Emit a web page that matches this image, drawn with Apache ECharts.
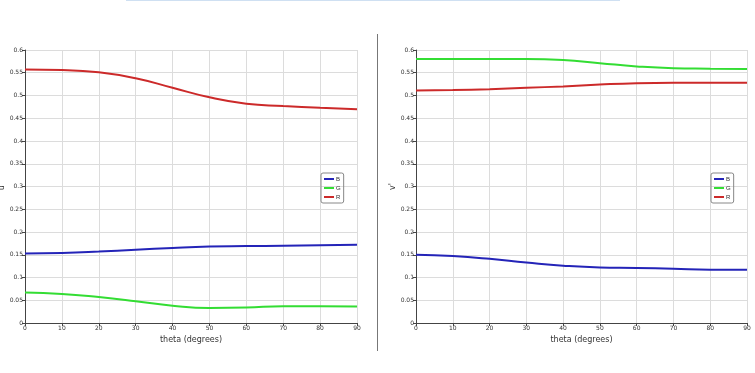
<!DOCTYPE html>
<html><head><meta charset="utf-8">
<script src="https://cdn.jsdelivr.net/npm/echarts@6/dist/echarts.min.js"></script>
<style>html,body{margin:0;padding:0;background:#fff}#c{width:755px;height:373px}</style>
</head><body><div id="c"></div>
<script>
const theta = [0,10,20,30,40,50,60,70,80,90];
const uR = [0.557,0.556,0.551,0.538,0.517,0.496,0.482,0.477,0.473,0.470];
const uG = [0.067,0.064,0.057,0.048,0.038,0.033,0.034,0.037,0.037,0.036];
const uB = [0.153,0.154,0.157,0.161,0.165,0.168,0.169,0.170,0.171,0.172];
const vG = [0.580,0.580,0.580,0.580,0.578,0.571,0.564,0.560,0.559,0.558];
const vR = [0.511,0.512,0.514,0.517,0.520,0.524,0.527,0.528,0.528,0.528];
const vB = [0.150,0.147,0.141,0.133,0.126,0.122,0.121,0.119,0.117,0.117];
const yTicks = ['0','0.05','0.1','0.15','0.2','0.25','0.3','0.35','0.4','0.45','0.5','0.55','0.6'];
const colors = {B:'#2424b8', G:'#33dd33', R:'#cc2a2a'};

const chart = echarts.init(document.getElementById('c'));
function xa(i){return {gridIndex:i,type:'value',min:0,max:90,interval:10,
  name:'theta (degrees)',nameLocation:'middle',nameGap:9,
  nameTextStyle:{fontSize:8,color:'#333',fontFamily:'DejaVu Sans'},
  axisLine:{lineStyle:{color:'#444'}},axisTick:{length:3,lineStyle:{color:'#444'}},
  axisLabel:{fontSize:6,color:'#333',margin:2,fontFamily:'DejaVu Sans'},
  splitLine:{lineStyle:{color:'#dcdcdc'}}};}
function ya(i,nm){return {gridIndex:i,type:'value',min:0,max:0.6,interval:0.05,
  name:nm,nameLocation:'middle',nameGap:16,nameRotate:90,
  nameTextStyle:{fontSize:8,color:'#333',fontFamily:'DejaVu Sans'},
  axisLine:{show:true,lineStyle:{color:'#444'}},axisTick:{show:true,length:3,lineStyle:{color:'#444'}},
  axisLabel:{fontSize:6,color:'#333',margin:2,fontFamily:'DejaVu Sans',
    formatter:v=>yTicks[Math.round(v/0.05)]},
  splitLine:{lineStyle:{color:'#dcdcdc'}}};}
function s(name,data,i){return {name,type:'line',xAxisIndex:i,yAxisIndex:i,smooth:true,symbol:'none',
  data:theta.map((t,k)=>[t,data[k]]),lineStyle:{width:2,color:colors[name]},itemStyle:{color:colors[name]}};}
function lg(left){return {orient:'vertical',left,top:173,data:['B','G','R'],itemWidth:10,itemHeight:2,itemGap:3,
  icon:'rect',padding:[3,3,3,3],borderColor:'#888',borderWidth:1,borderRadius:2,
  textStyle:{fontSize:6,color:'#333',padding:[0,0,0,-3]},selectedMode:false};}
chart.setOption({
  animation:false,
  grid:[{left:25,right:398,top:50,bottom:50,containLabel:false,outerBoundsMode:'none'},
        {left:416,right:8,top:50,bottom:50,containLabel:false,outerBoundsMode:'none'}],
  xAxis:[xa(0),xa(1)],
  yAxis:[ya(0,"u'"),ya(1,"v'")],
  legend:[lg(321),lg(711)],
  series:[s('B',uB,0),s('G',uG,0),s('R',uR,0),s('B',vB,1),s('G',vG,1),s('R',vR,1)],
  graphic:[
    {type:'rect',shape:{x:377,y:34,width:1,height:317},style:{fill:'#777'}},
    {type:'rect',shape:{x:126,y:0,width:494,height:1},style:{fill:'#cfe0f2'}}
  ]
});
</script></body></html>
